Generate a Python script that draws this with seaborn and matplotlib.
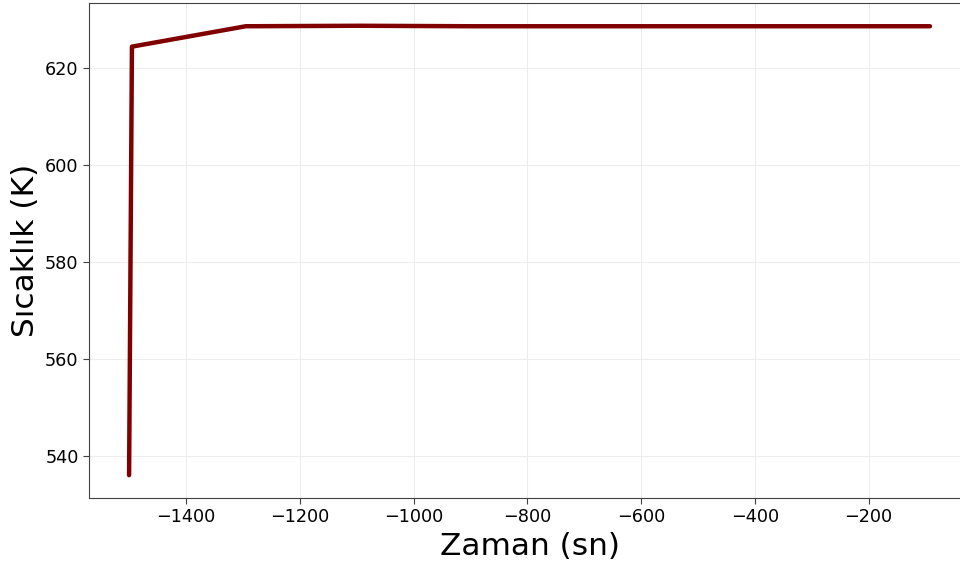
import matplotlib
matplotlib.use("Agg")
import matplotlib.pyplot as plt
import seaborn as sns
import pandas as pd

time_s = [-1500, -1495, -1295, -1095, -895, -695, -495, -295, -92]
temp_k = [536.0, 624.3, 628.5, 628.6, 628.5, 628.5, 628.5, 628.5, 628.5]

sns.set_style("whitegrid", {
    "axes.edgecolor": ".25",
    "grid.color": ".93",
    "xtick.bottom": True,
    "ytick.left": True,
    "axes.linewidth": 1.0,
    "text.color": "black",
    "axes.labelcolor": "black",
    "xtick.color": "black",
    "ytick.color": "black",
})
plt.rcParams['font.family'] = ['DejaVu Sans']

df = pd.DataFrame({"Zaman (sn)": time_s, "Sıcaklık (K)": temp_k})

fig = plt.figure(figsize=(9.6, 5.69), dpi=100)
ax = fig.add_axes([0.0927, 0.1248, 0.919, 0.870])
sns.lineplot(data=df, x="Zaman (sn)", y="Sıcaklık (K)", color="#800000",
             linewidth=3.2, ax=ax)
ax.set_xlabel("Zaman (sn)", fontsize=22.5)
ax.set_ylabel("Sıcaklık (K)", fontsize=22.5)
ax.tick_params(axis="both", labelsize=12.7, length=4, color=".25")
ax.set_xticks([-1400, -1200, -1000, -800, -600, -400, -200])
ax.set_yticks([540, 560, 580, 600, 620])
ax.set_xlim(-1570.5, -19.5)
ax.set_ylim(531.3, 633.3)
fig.savefig("out.png", dpi=100)
